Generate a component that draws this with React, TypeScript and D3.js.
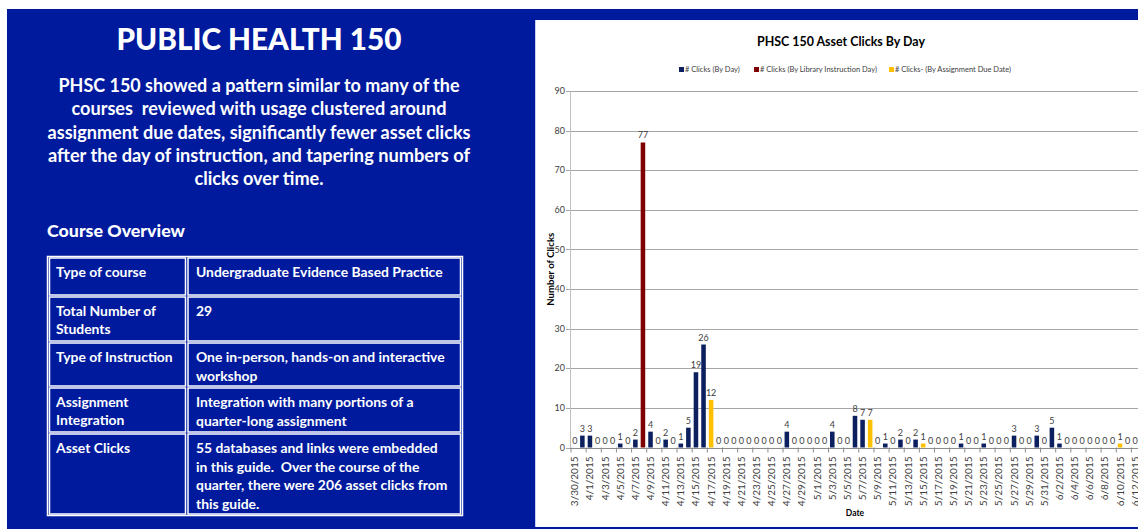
import React from "react";
import * as d3 from "d3";

const dates = [
  "3/30/2015","3/31/2015",
  "4/1/2015","4/2/2015","4/3/2015","4/4/2015","4/5/2015","4/6/2015","4/7/2015","4/8/2015","4/9/2015","4/10/2015",
  "4/11/2015","4/12/2015","4/13/2015","4/14/2015","4/15/2015","4/16/2015","4/17/2015","4/18/2015","4/19/2015","4/20/2015",
  "4/21/2015","4/22/2015","4/23/2015","4/24/2015","4/25/2015","4/26/2015","4/27/2015","4/28/2015","4/29/2015","4/30/2015",
  "5/1/2015","5/2/2015","5/3/2015","5/4/2015","5/5/2015","5/6/2015","5/7/2015","5/8/2015","5/9/2015","5/10/2015",
  "5/11/2015","5/12/2015","5/13/2015","5/14/2015","5/15/2015","5/16/2015","5/17/2015","5/18/2015","5/19/2015","5/20/2015",
  "5/21/2015","5/22/2015","5/23/2015","5/24/2015","5/25/2015","5/26/2015","5/27/2015","5/28/2015","5/29/2015","5/30/2015","5/31/2015",
  "6/1/2015","6/2/2015","6/3/2015","6/4/2015","6/5/2015","6/6/2015","6/7/2015","6/8/2015","6/9/2015","6/10/2015",
  "6/11/2015","6/12/2015",
];

const clicks = [
  0, 3, 3, 0, 0, 0, 1, 0, 2, 77, 4, 0, 2, 0, 1, 5, 19, 26, 12,
  0, 0, 0, 0, 0, 0, 0, 0, 0,
  4,
  0, 0, 0, 0, 0,
  4, 0, 0, 8, 7, 7, 0, 1, 0, 2, 0, 2, 1,
  0, 0, 0, 0,
  1, 0, 0, 1, 0, 0, 0, 3, 0, 0, 3, 0,
  5, 1,
  0, 0, 0, 0, 0, 0, 0,
  1, 0, 0,
];

const instructionDays = ["4/8/2015"];
const dueDates = ["4/17/2015", "5/8/2015", "5/15/2015", "6/10/2015"];

const seriesNames = [
  "# Clicks (By Day)",
  "# Clicks (By Library Instruction Day)",
  "# Clicks- (By Assignment Due Date)",
];
const seriesColors = ["#0c1f5e", "#7f0000", "#ffc000"];

const yTicks = [0, 10, 20, 30, 40, 50, 60, 70, 80, 90];

const chartTitle = "PHSC 150 Asset Clicks By Day";
const yTitle = "Number of Clicks";
const xTitle = "Date";

const pageTitle = "PUBLIC HEALTH 150";
const introLines = [
  "PHSC 150 showed a pattern similar to many of the",
  "courses  reviewed with usage clustered around",
  "assignment due dates, significantly fewer asset clicks",
  "after the day of instruction, and tapering numbers of",
  "clicks over time.",
];
const overviewTitle = "Course Overview";
const tableLabels = [
  ["Type of course"],
  ["Total Number of", "Students"],
  ["Type of Instruction"],
  ["Assignment", "Integration"],
  ["Asset Clicks"],
];
const tableValues = [
  ["Undergraduate Evidence Based Practice"],
  ["29"],
  ["One in-person, hands-on and interactive", "workshop"],
  ["Integration with many portions of a", "quarter-long assignment"],
  [
    "55 databases and links were embedded",
    "in this guide.  Over the course of the",
    "quarter, there were 206 asset clicks from",
    "this guide.",
  ],
];

const BLUE = "#001a9e";
const FONT = "Lato, 'Open Sans', sans-serif";

function seriesOf(d: string) {
  if (instructionDays.includes(d)) return 1;
  if (dueDates.includes(d)) return 2;
  return 0;
}

export default function App() {
  const W = 1138;
  const H = 529;

  const plotLeft = 571;
  const plotRight = 1139;
  const plotTop = 91;
  const plotBottom = 447.5;

  const x = d3
    .scaleBand<string>()
    .domain(dates)
    .range([plotLeft, plotRight])
    .paddingInner(0.4)
    .paddingOuter(0.2);
  const y = d3.scaleLinear().domain([0, 90]).range([plotBottom, plotTop]);

  const step = x.step();
  const bw = x.bandwidth();

  const introWidths = [401, 375, 423, 422, 129];
  const introCenter = 259;

  const rows = [
    [258, 295],
    [297, 341],
    [343, 386],
    [388, 432],
    [434, 514],
  ];

  const legendX = [679, 754, 889];

  return (
    <svg
      width={W}
      height={H}
      style={{ position: "absolute", left: 0, top: 0, background: "#fff" }}
      fontFamily={FONT}
    >
      <rect x={7} y={9} width={W - 7} height={H - 9} fill={BLUE} />
      <rect x={535} y={20} width={W - 535} height={507} fill="#ffffff" />
      <line x1={535.5} y1={20} x2={535.5} y2={527} stroke="#c8d0f0" strokeWidth={1} />

      {/* left panel */}
      <text
        x={introCenter}
        y={50}
        textAnchor="middle"
        fill="#fff"
        fontWeight={900}
        fontSize={31}
        textLength={285}
        lengthAdjust="spacingAndGlyphs"
      >
        {pageTitle}
      </text>
      {introLines.map((l, i) => (
        <text
          key={i}
          x={introCenter}
          y={92 + i * 23.3}
          textAnchor="middle"
          fill="#fff"
          fontWeight={700}
          fontSize={18.5}
          textLength={introWidths[i]}
          lengthAdjust="spacingAndGlyphs"
          style={{ whiteSpace: "pre" }}
        >
          {l}
        </text>
      ))}
      <text
        x={47}
        y={237}
        fill="#fff"
        fontWeight={900}
        fontSize={16.5}
        textLength={138}
        lengthAdjust="spacingAndGlyphs"
      >
        {overviewTitle}
      </text>

      {/* table */}
      <rect x={47.5} y={256.5} width={415} height={259} fill="none" stroke="#fff" strokeWidth={1.5} />
      {rows.map(([t, b], i) => (
        <g key={i}>
          <rect x={49.5} y={t} width={136} height={b - t} fill="none" stroke="#fff" strokeWidth={1.5} />
          <rect x={188} y={t} width={272.5} height={b - t} fill="none" stroke="#fff" strokeWidth={1.5} />
          {tableLabels[i].map((l, j) => (
            <text key={"l" + j} x={56} y={t + 19 + j * 18.4} fill="#fff" fontWeight={700} fontSize={13.9}>
              {l}
            </text>
          ))}
          {tableValues[i].map((l, j) => (
            <text
              key={"v" + j}
              x={196}
              y={t + 19 + j * 18.6}
              fill="#fff"
              fontWeight={700}
              fontSize={13.9}
              style={{ whiteSpace: "pre" }}
            >
              {l}
            </text>
          ))}
        </g>
      ))}

      {/* chart title */}
      <text
        x={841}
        y={46}
        textAnchor="middle"
        fontWeight={700}
        fontSize={14}
        fill="#000"
        textLength={168}
        lengthAdjust="spacingAndGlyphs"
      >
        {chartTitle}
      </text>

      {/* legend */}
      {seriesNames.map((n, i) => (
        <g key={n}>
          <rect x={legendX[i]} y={67} width={5} height={5} fill={seriesColors[i]} />
          <text x={legendX[i] + 6} y={72} fontSize={7.5} fill="#404040">
            {n}
          </text>
        </g>
      ))}

      {/* gridlines & y ticks */}
      {yTicks.map((t) => (
        <g key={t}>
          {t > 0 && (
            <line x1={plotLeft - 1} x2={W} y1={Math.round(y(t)) + 0.5} y2={Math.round(y(t)) + 0.5} stroke="#a6a6a6" strokeWidth={1} />
          )}
          <line x1={plotLeft - 5} x2={plotLeft - 1} y1={Math.round(y(t)) + 0.5} y2={Math.round(y(t)) + 0.5} stroke="#a6a6a6" />
          <text x={plotLeft - 6} y={y(t)} dy="0.35em" textAnchor="end" fontSize={9} fill="#404040">
            {t}
          </text>
        </g>
      ))}
      <line x1={plotLeft - 0.5} x2={plotLeft - 0.5} y1={plotTop} y2={plotBottom} stroke="#bfbfbf" />

      {/* bars */}
      {dates.map((d, i) => {
        const v = clicks[i];
        const s = seriesOf(d);
        const x0 = x(d) as number;
        return (
          <g key={d}>
            {v > 0 && (
              <rect x={x0} y={y(v)} width={bw} height={plotBottom - y(v)} fill={seriesColors[s]} />
            )}
            <text x={x0 + bw / 2} y={y(v) - 4} textAnchor="middle" fontSize={9} fill="#404040">
              {v}
            </text>
          </g>
        );
      })}

      {/* x axis */}
      <line x1={plotLeft - 1} x2={W} y1={Math.round(plotBottom) + 0.5} y2={Math.round(plotBottom) + 0.5} stroke="#8c8c8c" />
      {dates.map((d, i) =>
        i % 2 === 0 ? (
          <g key={"t" + d}>
            <line
              x1={(x(d) as number) - (step - bw) / 2}
              x2={(x(d) as number) - (step - bw) / 2}
              y1={plotBottom}
              y2={plotBottom + 5}
              stroke="#8c8c8c"
            />
            <text
              transform={`translate(${(x(d) as number) + bw / 2},${plotBottom + 9}) rotate(-90)`}
              dy="0.35em"
              textAnchor="end"
              fontSize={10}
              fill="#404040"
            >
              {d}
            </text>
          </g>
        ) : null
      )}

      {/* axis titles */}
      <text
        transform={`translate(551,${(plotTop + plotBottom) / 2}) rotate(-90)`}
        textAnchor="middle"
        dy="0.35em"
        fontSize={8.5}
        fontWeight={700}
        fill="#000"
        textLength={73}
        lengthAdjust="spacingAndGlyphs"
      >
        {yTitle}
      </text>
      <text x={855} y={516} textAnchor="middle" fontSize={8.5} fontWeight={700} fill="#000">
        {xTitle}
      </text>
    </svg>
  );
}
